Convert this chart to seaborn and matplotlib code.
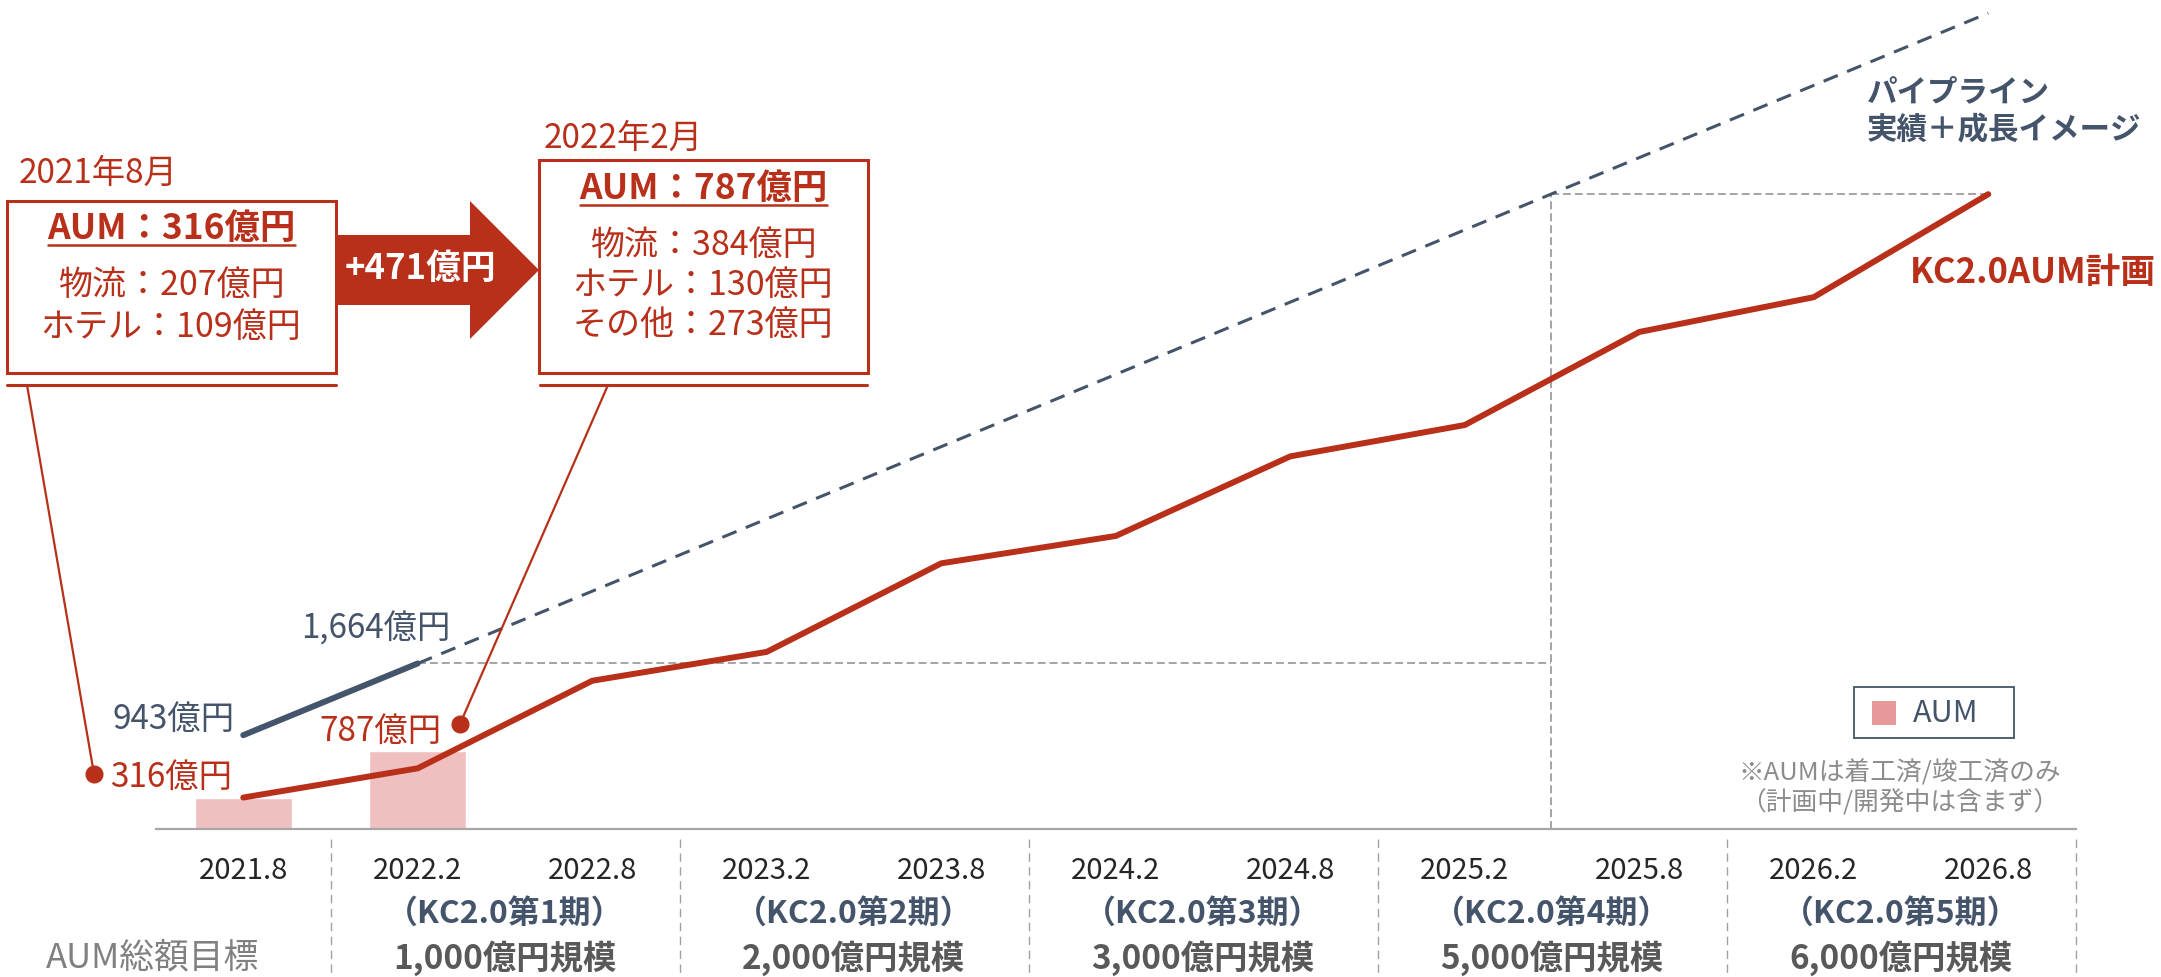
import numpy as np
import matplotlib
matplotlib.use("Agg")
import matplotlib.pyplot as plt
import seaborn as sns
from matplotlib.patches import Rectangle, Polygon
from matplotlib.lines import Line2D
from matplotlib.transforms import blended_transform_factory

# ---------------- data ----------------
periods = ["2021.8", "2022.2", "2022.8", "2023.2", "2023.8", "2024.2",
           "2024.8", "2025.2", "2025.8", "2026.2", "2026.8"]
aum_periods = ["2021.8", "2022.2"]
aum_values = [316, 787]
plan_values = [316, 610, 1490, 1780, 2670, 2945, 3745, 4060, 4995, 5345, 6380]
pipeline_actual_periods = ["2021.8", "2022.2"]
pipeline_actual_values = [943, 1664]
pipeline_image_periods = ["2022.2", "2026.8"]
pipeline_image_values = [1664, 8200]
phase_start_periods = ["2022.2", "2023.2", "2024.2", "2025.2", "2026.2"]
phase_labels = ["（KC2.0第1期）", "（KC2.0第2期）", "（KC2.0第3期）",
                "（KC2.0第4期）", "（KC2.0第5期）"]
phase_targets = ["1,000億円規模", "2,000億円規模", "3,000億円規模",
                 "5,000億円規模", "6,000億円規模"]
row_title = "AUM総額目標"
box1_date = "2021年8月"
box1_title = "AUM：316億円"
box1_lines = ["物流：207億円", "ホテル：109億円"]
box2_date = "2022年2月"
box2_title = "AUM：787億円"
box2_lines = ["物流：384億円", "ホテル：130億円", "その他：273億円"]
arrow_text = "+471億円"
label_plan_start = "316億円"
label_aum_2 = "787億円"
label_pipe_start = "943億円"
label_pipe_end = "1,664億円"
pipeline_title = ["パイプライン", "実績＋成長イメージ"]
plan_title = "KC2.0AUM計画"
legend_label = "AUM"
note_lines = ["※AUMは着工済/竣工済のみ", "（計画中/開発中は含まず）"]

# ---------------- style ----------------
RED = "#B8301A"
SLATE = "#44546A"
BAR = "#F0BFBF"
LEG = "#E59A99"
GREY = "#8C8C8C"
AXGREY = "#A6A6A6"

sns.set_style("white")
plt.rcParams["font.family"] = ["Noto Sans CJK JP", "DejaVu Sans"]

W, H = 2161, 978
fig = plt.figure(figsize=(W / 100, H / 100), dpi=100)
fig.patch.set_facecolor("white")
x_left, x_right, base_y = 156, 2075.5, 830
ax = fig.add_axes([x_left / W, (H - base_y) / H, (x_right - x_left) / W, base_y / H])
ax.set_facecolor("none")


def fx(px):
    return px / W


def fy(py):
    return 1 - py / H


def ftext(px, py, s, **kw):
    return fig.text(fx(px), fy(py), s, **kw)


def fline(x0, y0, x1, y1, **kw):
    fig.add_artist(Line2D([fx(x0), fx(x1)], [fy(y0), fy(y1)],
                          transform=fig.transFigure, **kw))


pos = {p: i for i, p in enumerate(periods)}
idx = np.arange(len(periods))

# bars
sns.barplot(x=aum_periods, y=aum_values, order=periods, color=BAR,
            saturation=1, width=0.556, ax=ax, zorder=1)

# plan line
sns.lineplot(x=idx, y=plan_values, color=RED, linewidth=4.3, ax=ax,
             solid_capstyle="round", solid_joinstyle="miter", zorder=4)

# pipeline actual
sns.lineplot(x=[pos[p] for p in pipeline_actual_periods], y=pipeline_actual_values,
             color=SLATE, linewidth=4.3, ax=ax, solid_capstyle="round", zorder=4)

# pipeline image (dashed)
px_img = [pos[p] for p in pipeline_image_periods]
ax.plot(px_img, pipeline_image_values, color=SLATE, linewidth=2.2,
        linestyle=(0, (5.0, 3.3)), zorder=3)

# reference grey dashed lines
slope = (pipeline_image_values[1] - pipeline_image_values[0]) / (px_img[1] - px_img[0])
x_cross = px_img[0] + (plan_values[-1] - pipeline_image_values[0]) / slope
ref_kw = dict(color=GREY, linewidth=1.1, linestyle=(0, (5.2, 2.6)), zorder=2)
ax.plot([pos["2022.2"], x_cross], [pipeline_actual_values[-1]] * 2, **ref_kw)
ax.plot([x_cross, len(periods) - 1], [plan_values[-1]] * 2, **ref_kw)
ax.plot([x_cross, x_cross], [0, plan_values[-1]], **ref_kw)

# axes setup
ax.set_xlim(-0.5, len(periods) - 0.5)
ax.set_ylim(0, base_y / 0.0995)
ax.set_ylabel("")
ax.set_xlabel("")
ax.set_yticks([])
for s in ["left", "right", "top"]:
    ax.spines[s].set_visible(False)
ax.spines["bottom"].set_color(AXGREY)
ax.spines["bottom"].set_linewidth(1.6)
ax.set_xticks(idx)
ax.set_xticklabels(periods, fontsize=21, color="#262626")
ax.tick_params(axis="x", which="major", length=0, pad=19)
ax.set_xticks(np.arange(-0.5, len(periods), 1), minor=True)
ax.tick_params(axis="x", which="minor", length=7.5, width=1.3, color=AXGREY, direction="out")

# period separators and labels below
bt = blended_transform_factory(ax.transData, fig.transFigure)
sep_x = [pos[p] - 0.5 for p in phase_start_periods] + [len(periods) - 0.5]
for sx in sep_x:
    ax.add_line(Line2D([sx, sx], [fy(840), fy(978)], transform=bt, color="#A0A0A0",
                       linewidth=1.0, linestyle=(0, (6, 4)), clip_on=False))
for p, lab, tgt in zip(phase_start_periods, phase_labels, phase_targets):
    cx = pos[p] + 0.5
    ax.text(cx, fy(914), lab, transform=bt, ha="center", va="center",
            fontsize=23, fontweight="bold", color=SLATE)
    ax.text(cx, fy(958), tgt, transform=bt, ha="center", va="center",
            fontsize=24, fontweight="bold", color="#595959")
ftext(152, 958, row_title, ha="center", va="center", fontsize=25, color="#808080")

# value labels
ax.annotate(label_plan_start, xy=(pos["2021.8"], plan_values[0]), xytext=(-11, 21),
            textcoords="offset pixels", ha="right", va="center", fontsize=24, color=RED)
ax.annotate(label_pipe_start, xy=(pos["2021.8"], pipeline_actual_values[0]), xytext=(-9, 17),
            textcoords="offset pixels", ha="right", va="center", fontsize=24, color=SLATE)
ax.annotate(label_pipe_end, xy=(pos["2022.2"], pipeline_actual_values[1]), xytext=(33, 35),
            textcoords="offset pixels", ha="right", va="center", fontsize=24, color=SLATE)
ax.annotate(label_aum_2, xy=(pos["2022.2"], aum_values[1]), xytext=(24, 20),
            textcoords="offset pixels", ha="right", va="center", fontsize=24, color=RED)

# right-hand series titles
ftext(1867, 92, pipeline_title[0], ha="left", va="center", fontsize=22, fontweight="bold", color=SLATE)
ftext(1867, 130, pipeline_title[1], ha="left", va="center", fontsize=22, fontweight="bold", color=SLATE)
ftext(1910, 273, plan_title, ha="left", va="center", fontsize=25, fontweight="bold", color=RED)

# legend (drawn manually)
fig.add_artist(Rectangle((fx(1854), fy(739)), fx(2014) - fx(1854), fy(688) - fy(739),
                         transform=fig.transFigure, facecolor="white", edgecolor=SLATE, linewidth=1.3))
fig.add_artist(Rectangle((fx(1872), fy(726)), fx(1896) - fx(1872), fy(702) - fy(726),
                         transform=fig.transFigure, facecolor=LEG, edgecolor="none"))
ftext(1913, 714, legend_label, ha="left", va="center", fontsize=22, color=SLATE)
ftext(1900, 773, note_lines[0], ha="center", va="center", fontsize=18.5, color=GREY)
ftext(1900, 803, note_lines[1], ha="center", va="center", fontsize=18.5, color=GREY)

# annotation boxes
box_lw = 2.2
# box 1
ftext(19, 173, box1_date, ha="left", va="center", fontsize=24, color=RED)
fig.add_artist(Rectangle((fx(7), fy(374)), fx(336) - fx(7), fy(202) - fy(374),
                         transform=fig.transFigure, facecolor="white", edgecolor=RED, linewidth=box_lw))
fline(7, 386, 336, 386, color=RED, linewidth=box_lw)
ftext(171, 228, box1_title, ha="center", va="center", fontsize=25.5, fontweight="bold", color=RED)
fline(48, 246, 295, 246, color=RED, linewidth=1.8)
for py, s in zip([285, 327], box1_lines):
    ftext(171, py, s, ha="center", va="center", fontsize=24.5, color=RED)

# arrow
arrow_pts = [(336, 236), (470, 236), (470, 202), (539, 271), (470, 340), (470, 306), (336, 306)]
fig.add_artist(Polygon([(fx(a), fy(b)) for a, b in arrow_pts], closed=True,
                       transform=fig.transFigure, facecolor=RED, edgecolor="none"))
ftext(420, 268, arrow_text, ha="center", va="center", fontsize=25, fontweight="bold", color="white")

# box 2
ftext(544, 138, box2_date, ha="left", va="center", fontsize=24, color=RED)
fig.add_artist(Rectangle((fx(539), fy(374)), fx(868) - fx(539), fy(161) - fy(374),
                         transform=fig.transFigure, facecolor="white", edgecolor=RED, linewidth=box_lw))
fline(540, 386, 867, 386, color=RED, linewidth=box_lw)
ftext(703, 188, box2_title, ha="center", va="center", fontsize=25.5, fontweight="bold", color=RED)
fline(580, 206, 827, 206, color=RED, linewidth=1.8)
for py, s in zip([245, 285, 325], box2_lines):
    ftext(703, py, s, ha="center", va="center", fontsize=24.5, color=RED)

# leader lines with dots
fline(27, 386, 94, 775, color=RED, linewidth=1.6)
fig.add_artist(Line2D([fx(94)], [fy(775)], transform=fig.transFigure, marker="o",
                      markersize=12, color=RED, linestyle="none"))
fline(608, 386, 460, 725, color=RED, linewidth=1.6)
fig.add_artist(Line2D([fx(460)], [fy(725)], transform=fig.transFigure, marker="o",
                      markersize=12, color=RED, linestyle="none"))

fig.savefig("out.png", dpi=100, facecolor="white")
